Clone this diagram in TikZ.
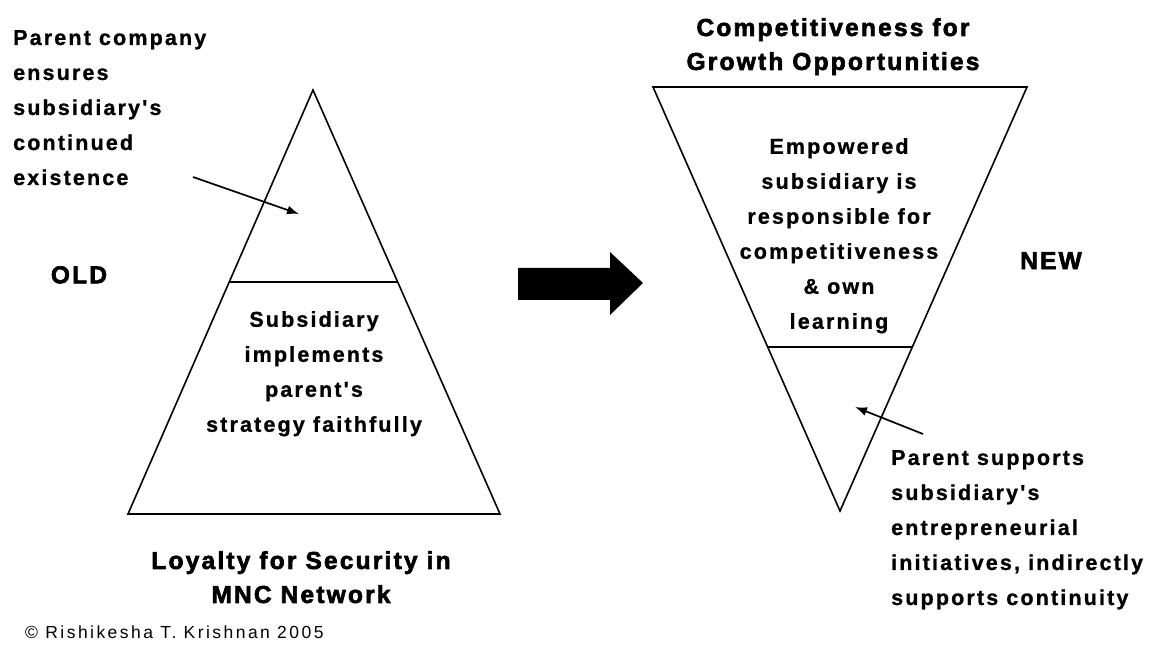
\documentclass[tikz,border=0pt]{standalone}
\usepackage{fontspec}
\setmainfont{Liberation Sans}
\newfontfamily\boldface[LetterSpace=10,FakeBold=1]{Liberation Sans Bold}
\newfontfamily\headface[LetterSpace=9,FakeBold=2.5]{Liberation Sans Bold}
\newfontfamily\plainface[LetterSpace=14]{Liberation Sans}
\usetikzlibrary{calc,arrows.meta}

\begin{document}
\begin{tikzpicture}[x=1pt,y=-1pt]

% styles
\tikzset{
  body/.style={font=\boldface\fontsize{21.5}{35}\selectfont, inner sep=0pt, anchor=north},
  head/.style={font=\headface\fontsize{24.5}{34}\selectfont, inner sep=0pt, anchor=north, align=center},
  outline/.style={line width=1.6pt, line join=miter},
  pointer/.style={line width=1.7pt, -{Latex[length=12pt,width=9pt]}}
}

\fill[white] (0,0) rectangle (1154,652);
\useasboundingbox (0,0) rectangle (1154,652);

% ===== old pyramid =====
\coordinate (oldtop) at (313,90);
\coordinate (oldleft) at (128,514);
\coordinate (oldright) at (500,514);
\draw[outline] (oldtop) -- (oldleft) -- (oldright) -- cycle;
\draw[outline] ($(oldtop)!0.453!(oldleft)$) -- ($(oldtop)!0.453!(oldright)$);

% ===== new pyramid (upside down) =====
\coordinate (newleft) at (653,87);
\coordinate (newright) at (1027,87);
\coordinate (newtip) at (840,511);
\draw[outline] (newleft) -- (newright) -- (newtip) -- cycle;
\draw[outline] ($(newleft)!0.613!(newtip)$) -- ($(newright)!0.613!(newtip)$);

% ===== big arrow =====
\fill (518,268) -- (610,268) -- (610,252) -- (643,283) -- (610,315) -- (610,300) -- (518,300) -- cycle;

% ===== texts =====
\node[body, anchor=north west, align=left] (oldnote) at (13,30)
  {Parent company\\ensures\\subsidiary's\\continued\\existence};
\node[head] (oldlabel) at (79,266) {OLD};
\node[body, align=center] (oldbody) at (314,311)
  {Subsidiary\\implements\\parent's\\strategy faithfully};
\node[head] (oldtitle) at (301,551) {Loyalty for Security in\\MNC Network};

\node[head] (newtitle) at (833,18) {Competitiveness for\\Growth Opportunities};
\node[body, align=center] (newbody) at (839,138)
  {Empowered\\subsidiary is\\responsible for\\competitiveness\\\& own\\learning};
\node[head, anchor=north west] (newlabel) at (1020,252) {NEW};
\node[body, anchor=north west, align=left] (newnote) at (891,450)
  {Parent supports\\subsidiary's\\entrepreneurial\\initiatives, indirectly\\supports continuity};

\node[anchor=north west, inner sep=0pt, font=\plainface\fontsize{17.5}{21}\selectfont] (credit) at (25,626)
  {© Rishikesha T. Krishnan 2005};

% ===== pointers =====
\coordinate (oldtail) at (193,177);
\coordinate (oldhead) at (299,214);
\draw[pointer] (oldtail) -- (oldhead);
\coordinate (newtail) at (923,434);
\coordinate (newhead) at (855,407);
\draw[pointer] (newtail) -- (newhead);

\end{tikzpicture}
\end{document}
